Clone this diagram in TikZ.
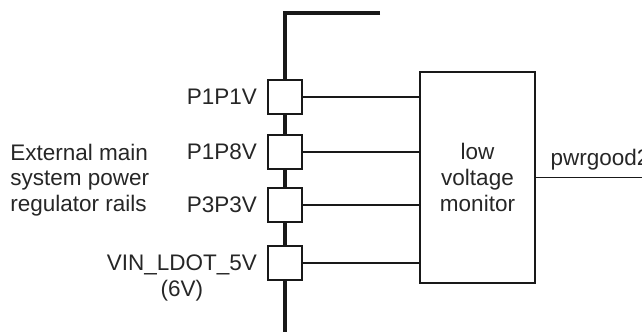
\documentclass[tikz,border=0pt]{standalone}
\usepackage{fontspec}
\setmainfont{Liberation Sans}
\usetikzlibrary{positioning}

\begin{document}
\begin{tikzpicture}[x=0.025cm,y=-0.025cm,
  tap/.style={draw=black!90,line width=1.2pt,fill=white,minimum size=0.85cm,inner sep=0pt},
  mon/.style={draw=black!90,line width=1.9pt,minimum width=2.875cm,minimum height=5.275cm,align=center,font=\fontsize{16}{18.3}\selectfont,text=black!85},
  lbl/.style={font=\fontsize{16}{18.3}\selectfont,text=black!85,inner sep=0pt},
  bus/.style={draw=black!90,line width=2.2pt,line join=miter},
  wire/.style={draw=black!90,line width=1pt}]
\useasboundingbox (0,0) rectangle (642,331);
% supply taps on the bus
\node[tap] (v1) at (285,97) {};
\node[tap] (v2) at (285,152) {};
\node[tap] (v3) at (285,205) {};
\node[tap] (v4) at (285,263) {};
\node[mon] (mon) at (477.5,177.5) {low\\voltage\\monitor};
% bus
\coordinate (btop) at (285,13);
\coordinate (bend) at (380,13);
\coordinate (bbot) at (285,332);
\draw[bus] (bend) -- (btop) -- (v1.north);
\draw[bus] (v1.south) -- (v2.north);
\draw[bus] (v2.south) -- (v3.north);
\draw[bus] (v3.south) -- (v4.north);
\draw[bus] (v4.south) -- (bbot);
% rail labels
\node[lbl,anchor=east] (l1) at ([xshift=-0.25cm]v1.west) {P1P1V};
\node[lbl,anchor=east] (l2) at ([xshift=-0.25cm]v2.west) {P1P8V};
\node[lbl,anchor=east] (l3) at ([xshift=-0.25cm]v3.west) {P3P3V};
\node[lbl,anchor=north east,align=center] (l4) at ([xshift=-0.25cm,yshift=0.2cm]v4.west) {VIN\_LDOT\_5V\\(6V)};
\node[lbl,anchor=west,align=left] (ext) at (10,180) {External main\\system power\\regulator rails};
% wires to monitor
\draw[wire] (v1.east) -- (v1.east -| mon.west);
\draw[wire] (v2.east) -- (v2.east -| mon.west);
\draw[wire] (v3.east) -- (v3.east -| mon.west);
\draw[wire] (v4.east) -- (v4.east -| mon.west);
\coordinate (pgout) at (643,177.5);
\draw[wire] (mon.east) -- (pgout);
\node[lbl,anchor=base west] (pg) at ([xshift=0.35cm,yshift=0.3cm]mon.east) {pwrgood2};
\end{tikzpicture}
\end{document}
